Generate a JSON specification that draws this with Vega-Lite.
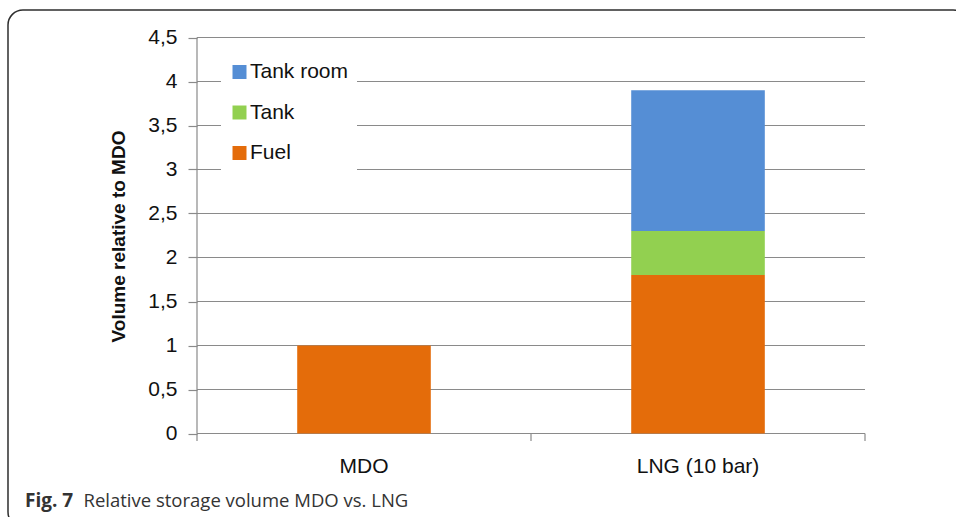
{
  "$schema": "https://vega.github.io/schema/vega-lite/v6.json",
  "autosize": {"type": "none"},
  "width": 960,
  "height": 517,
  "padding": {"left": 8, "top": 10, "right": -12, "bottom": -10},
  "background": "white",
  "config": {
    "view": {"stroke": "#2e2e2e", "strokeWidth": 1.5, "cornerRadius": 15},
    "font": "Liberation Sans"
  },
  "title": {
    "text": "Fig. 7",
    "orient": "bottom",
    "anchor": "start",
    "frame": "group",
    "font": "Open Sans",
    "fontWeight": "bold",
    "fontSize": 19,
    "color": "#333333",
    "baseline": "alphabetic",
    "offset": -20.5,
    "dx": 17
  },
  "datasets": {
    "bars": [
      {"cat": "MDO", "part": "Fuel", "v": 1.0},
      {"cat": "LNG (10 bar)", "part": "Fuel", "v": 1.8},
      {"cat": "LNG (10 bar)", "part": "Tank", "v": 0.5},
      {"cat": "LNG (10 bar)", "part": "Tank room", "v": 1.6}
    ],
    "grid": [
      {"v": 0}, {"v": 0.5}, {"v": 1}, {"v": 1.5}, {"v": 2},
      {"v": 2.5}, {"v": 3}, {"v": 3.5}, {"v": 4}, {"v": 4.5}
    ],
    "xt": [{"t": 0}, {"t": 0.5}, {"t": 1}]
  },
  "layer": [
    {
      "data": {"name": "grid"},
      "mark": {"type": "rule", "color": "#8a8a8a", "strokeWidth": 1.2},
      "encoding": {
        "x": {"datum": 0, "type": "quantitative", "scale": {"domain": [-0.28293, 1.15419], "nice": false, "zero": false}, "axis": null},
        "x2": {"datum": 1},
        "y": {"field": "v", "type": "quantitative", "scale": {"domain": [-1.0625, 4.8125], "nice": false, "zero": false}}
      }
    },
    {
      "data": {"name": "xt"},
      "mark": {"type": "rule", "color": "#8a8a8a", "strokeWidth": 1.2},
      "encoding": {
        "x": {"field": "t", "type": "quantitative", "scale": {"domain": [-0.28293, 1.15419], "nice": false, "zero": false}, "axis": null},
        "y": {"datum": 0, "type": "quantitative"},
        "y2": {"datum": -0.085}
      }
    },
    {
      "data": {"name": "xt"},
      "transform": [{"filter": "datum.t == 0"}],
      "mark": {"type": "rule", "color": "#8a8a8a", "strokeWidth": 1.2},
      "encoding": {
        "x": {"field": "t", "type": "quantitative", "scale": {"domain": [-0.28293, 1.15419], "nice": false, "zero": false}, "axis": null},
        "y": {"datum": 0, "type": "quantitative"},
        "y2": {"datum": 4.5}
      }
    },
    {
      "data": {"name": "bars"},
      "mark": {"type": "bar", "width": {"band": 0.4}},
      "encoding": {
        "x": {
          "field": "cat",
          "type": "nominal",
          "sort": ["MDO", "LNG (10 bar)"],
          "scale": {"paddingInner": 0, "paddingOuter": 0.4371, "align": 0.6473},
          "axis": {
            "orient": "bottom",
            "offset": -93.5,
            "domain": false,
            "ticks": false,
            "tickSize": 0,
            "labelPadding": 22,
            "labelFontSize": 21,
            "labelAngle": 0,
            "labelColor": "#111111",
            "title": "Relative storage volume MDO vs. LNG",
            "titleFont": "Open Sans",
            "titleFontWeight": "normal",
            "titleFontSize": 18.5,
            "titleColor": "#333333",
            "titleX": 75,
            "titleY": 73.2,
            "titleAlign": "left",
            "titleAnchor": "start",
            "titleBaseline": "alphabetic"
          }
        },
        "y": {
          "field": "v",
          "type": "quantitative",
          "stack": "zero",
          "scale": {"domain": [-1.0625, 4.8125], "nice": false, "zero": false},
          "axis": {
            "values": [0, 0.5, 1, 1.5, 2, 2.5, 3, 3.5, 4, 4.5],
            "offset": -189,
            "domain": false,
            "grid": false,
            "tickColor": "#8a8a8a",
            "tickWidth": 1.2,
            "tickSize": 9,
            "labelPadding": 11,
            "labelFontSize": 21,
            "labelColor": "#111111",
            "labelExpr": "replace(format(datum.value, '~g'), '.', ',')",
            "title": "Volume relative to MDO",
            "titleFontSize": 19,
            "titleFontWeight": "bold",
            "titleColor": "#111111",
            "titleX": -69,
            "titleY": 226
          }
        },
        "order": {"field": "part", "type": "nominal", "sort": "ascending"},
        "color": {
          "field": "part",
          "type": "nominal",
          "scale": {"domain": ["Fuel", "Tank", "Tank room"], "range": ["#e46c0a", "#92d050", "#558ed5"]},
          "legend": {
            "orient": "none",
            "legendX": 213,
            "legendY": 43.5,
            "title": null,
            "values": ["Tank room", "Tank", "Fuel"],
            "symbolType": "square",
            "symbolSize": 196,
            "symbolStrokeWidth": 0,
            "labelFontSize": 21,
            "labelColor": "#111111",
            "labelOffset": 0,
            "rowPadding": 18.5,
            "padding": 8,
            "fillColor": "white"
          }
        }
      }
    }
  ],
  "resolve": {"scale": {"x": "independent"}, "axis": {"x": "independent"}}
}
